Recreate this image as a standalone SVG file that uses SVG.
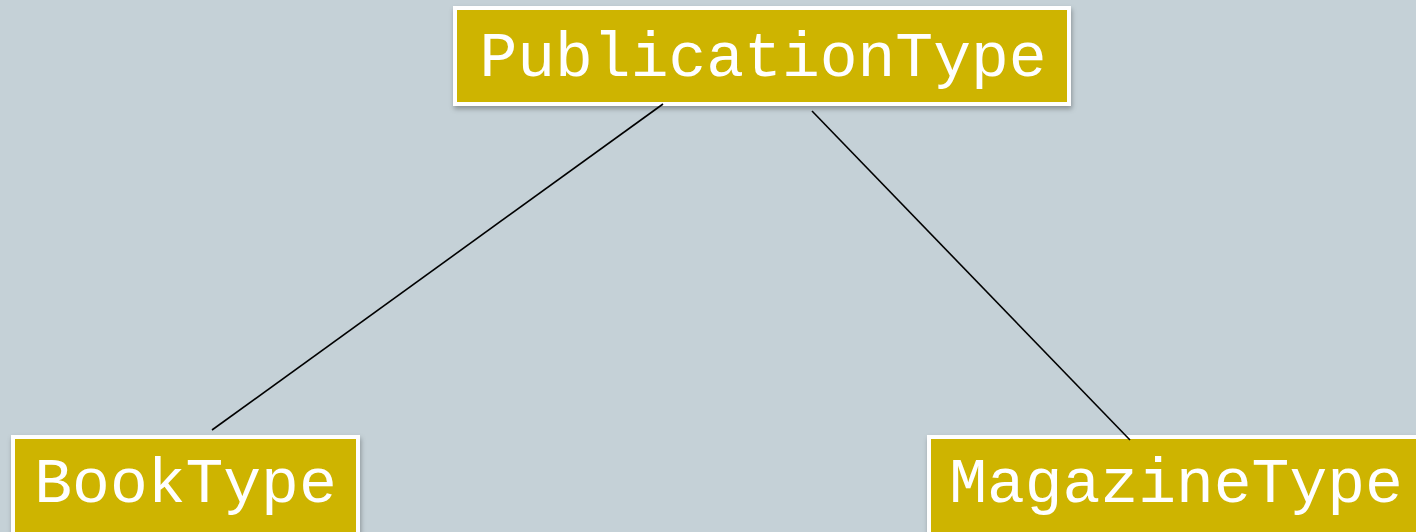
<svg xmlns="http://www.w3.org/2000/svg" width="1416" height="532" viewBox="0 0 1416 532">
  <style>
    .box { fill: #CEB400; stroke: #FFFFFF; stroke-width: 4; filter: url(#shadow); }
    .label { fill: #FFFFFF; font-family: "Liberation Mono", "Courier New", monospace; font-size: 63px; text-anchor: middle; }
    .edge { stroke: #000000; stroke-width: 1.6; fill: none; }
  </style>
  <defs>
    <filter id="shadow" x="-10%" y="-20%" width="120%" height="150%">
      <feDropShadow dx="1" dy="3" stdDeviation="2.5" flood-color="#000000" flood-opacity="0.3"/>
    </filter>
  </defs>
  <rect x="0" y="0" width="1416" height="532" fill="#C5D1D7"/>
  <g id="node-publication">
    <rect class="box" x="455" y="8" width="614" height="96"/>
    <text class="label" x="763" y="76">PublicationType</text>
  </g>
  <g id="node-book">
    <rect class="box" x="13" y="437" width="345" height="110"/>
    <text class="label" x="185.5" y="502">BookType</text>
  </g>
  <g id="node-magazine">
    <rect class="box" x="929" y="437" width="520" height="110"/>
    <text class="label" x="1176" y="502">MagazineType</text>
  </g>
  <g id="connectors">
    <line class="edge" x1="663" y1="104" x2="212" y2="430"/>
    <line class="edge" x1="812" y1="111" x2="1130" y2="440"/>
  </g>
</svg>
